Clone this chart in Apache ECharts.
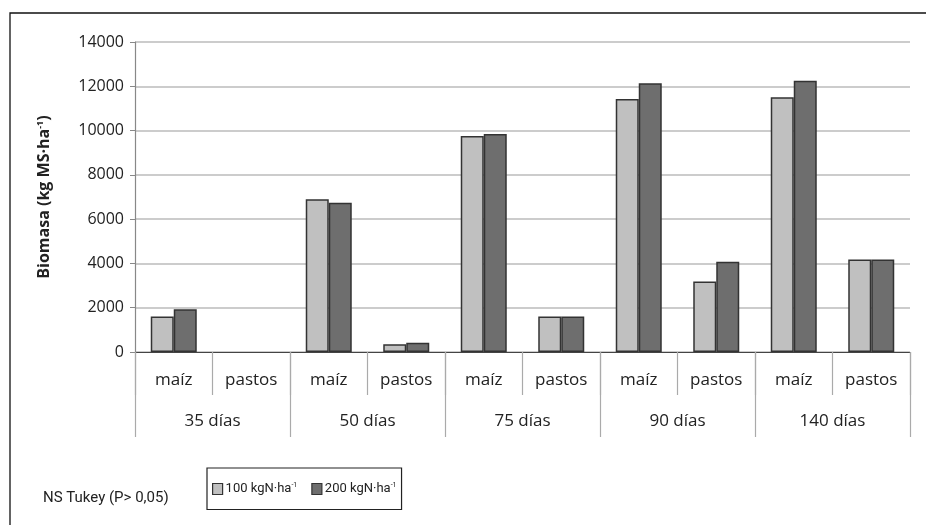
<!DOCTYPE html>
<html><head><meta charset="utf-8">
<script src="https://cdn.jsdelivr.net/npm/echarts@6/dist/echarts.min.js"></script>
<style>html,body{margin:0;padding:0;background:#fff}#c{width:926px;height:525px}</style>
</head><body><div id="c"></div>
<script>
const crops = ['maíz','pastos','maíz','pastos','maíz','pastos','maíz','pastos','maíz','pastos'];
const periods = ['35 días','50 días','75 días','90 días','140 días'];
const n100 = [1600, 0, 6900, 350, 9760, 1600, 11430, 3180, 11500, 4180];
const n200 = [1930, 0, 6740, 420, 9850, 1600, 12140, 4080, 12250, 4180];
const yTicks = {min: 0, max: 14000, interval: 2000};

const font = '"Open Sans", "Noto Sans", sans-serif';
const narrow = 'Roboto, "Open Sans", sans-serif';
function barData(arr) {
  return arr.map(v => v === 0 ? {value: 0, itemStyle: {borderWidth: 0}} : v);
}
const chart = echarts.init(document.getElementById('c'));
chart.setOption({
  animation: false,
  backgroundColor: '#fff',
  textStyle: {fontFamily: font},
  graphic: [{type: 'rect', shape: {x: 10, y: 13, width: 1000, height: 700}, style: {fill: 'none', stroke: '#111', lineWidth: 1.3}, silent: true}],
  title: {text: 'NS Tukey (P> 0,05)', left: 38, top: 486, textStyle: {fontFamily: narrow, fontSize: 15, fontWeight: 'normal', color: '#222'}},
  legend: {
    left: 207, top: 468, orient: 'horizontal', icon: 'rect', itemWidth: 10, itemHeight: 11, itemGap: 14,
    padding: [14, 5, 14, 5], borderColor: '#222', borderWidth: 1.2,
    itemStyle: {borderColor: '#333', borderWidth: 1.2},
    textStyle: {fontFamily: narrow, fontSize: 13, color: '#222', padding: [0, 0, 0, -2],
      rich: {sup: {fontSize: 7, verticalAlign: 'top', padding: [0, 0, 7, 0], color: '#222', fontFamily: narrow}}},
    formatter: function (name) { return name.replace('-1', '{sup|-1}'); },
    data: ['100 kgN·ha-1', '200 kgN·ha-1']
  },
  grid: {left: 135, right: 16, top: 42, bottom: 173},
  xAxis: [{
    type: 'category', data: crops, position: 'bottom',
    axisLine: {show: true, lineStyle: {color: '#444', width: 1.2}},
    axisTick: {show: true, interval: 0, length: 43, lineStyle: {color: '#aaa', width: 1.2}},
    axisLabel: {margin: 20, fontSize: 17, color: '#222', fontFamily: font}
  }, {
    type: 'category', data: periods, position: 'bottom',
    axisLine: {show: false},
    axisTick: {show: true, interval: 0, length: 85, lineStyle: {color: '#aaa', width: 1.2}},
    axisLabel: {margin: 61, fontSize: 17, color: '#222', fontFamily: font}
  }],
  yAxis: {
    type: 'value', min: yTicks.min, max: yTicks.max, interval: yTicks.interval,
    name: 'Biomasa (kg MS·ha{sup|-1})', nameLocation: 'middle', nameGap: 82, nameRotate: 90,
    nameTextStyle: {fontFamily: font, fontSize: 16, fontWeight: 'bold', color: '#222',
      rich: {sup: {fontSize: 9, fontWeight: 'bold', verticalAlign: 'top', padding: [0, 0, 8, 0], color: '#222', fontFamily: font}}},
    axisLine: {show: true, lineStyle: {color: '#888', width: 1.2}},
    axisTick: {show: true, length: 5, lineStyle: {color: '#888'}},
    axisLabel: {fontSize: 16, color: '#222', margin: 11, fontFamily: font, formatter: v => String(v)},
    splitLine: {lineStyle: {color: '#bbb', width: 1.5}}
  },
  series: [{
    name: '100 kgN·ha-1', type: 'bar', data: barData(n100), barWidth: 23, barGap: '0%',
    itemStyle: {color: '#c0c0c0', borderColor: '#333', borderWidth: 1.5}
  }, {
    name: '200 kgN·ha-1', type: 'bar', data: barData(n200), barWidth: 23, barGap: '0%',
    itemStyle: {color: '#6e6e6e', borderColor: '#333', borderWidth: 1.5}
  }]
});
</script></body></html>
